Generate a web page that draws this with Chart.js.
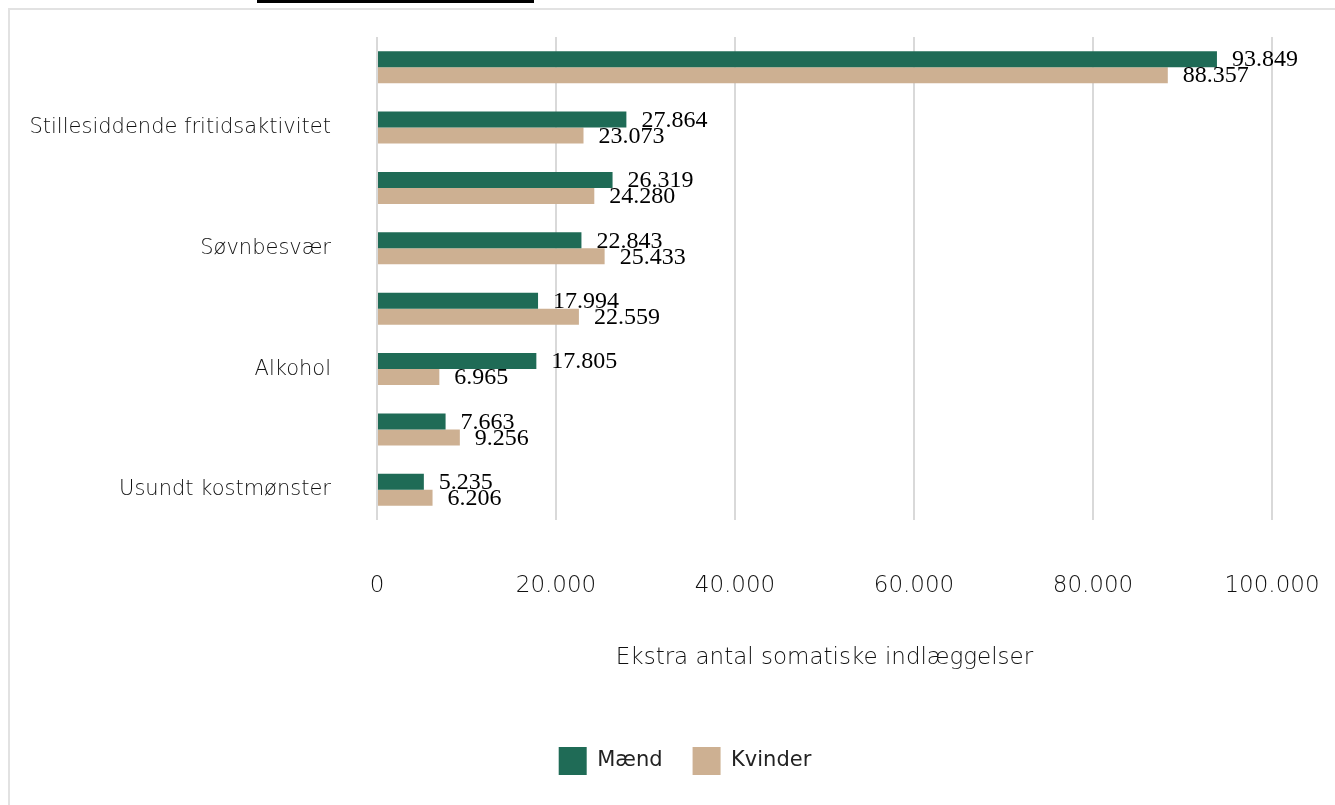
<!DOCTYPE html>
<html lang="da">
<head>
<meta charset="utf-8">
<script src="https://cdn.jsdelivr.net/npm/chart.js@4/dist/chart.umd.min.js"></script>
<style>
  html, body { margin: 0; padding: 0; background: #fff; overflow: hidden; }
  #topbar { position: absolute; left: 257px; top: 0; width: 277px; height: 3px; background: #000; }
  #ramme { position: absolute; left: 8px; top: 8px; width: 1400px; height: 900px;
           border-top: 2px solid #e2e2e2; border-left: 2px solid #e2e2e2; }
  #chart-indlaeggelser { position: absolute; left: 10px; top: 10px; }
</style>
</head>
<body>
<div id="topbar"></div>
<div id="ramme"></div>
<canvas id="chart-indlaeggelser" width="1350" height="795"></canvas>
<script>
// ekstra somatiske indlæggelser pr. risikofaktor, mænd og kvinder

const kategorier = ['', 'Stillesiddende fritidsaktivitet', '', 'Søvnbesvær', '', 'Alkohol', '', 'Usundt kostmønster'];
const maend = [93849, 27864, 26319, 22843, 17994, 17805, 7663, 5235];
const kvinder = [88357, 23073, 24280, 25433, 22559, 6965, 9256, 6206];
const xTicks = [0, 20000, 40000, 60000, 80000, 100000];

const farveMaend = '#1f6b56';
const farveKvinder = '#cdb092';
const tynd = '"DejaVu Sans", sans-serif';

function tal(v) {
  // dansk tusindtalsseparator
  return String(Math.round(v)).replace(/\B(?=(\d{3})+(?!\d))/g, '.');
}

// værdier skrives ud for enden af hver bjælke
const vaerdiEtiketter = {
  id: 'vaerdiEtiketter',
  afterDatasetsDraw(chart) {
    const ctx = chart.ctx;
    ctx.save();
    ctx.font = '24px "Liberation Serif", "DejaVu Serif", serif';
    ctx.fillStyle = '#000';
    ctx.textAlign = 'left';
    ctx.textBaseline = 'middle';
    chart.data.datasets.forEach((ds, i) => {
      const meta = chart.getDatasetMeta(i);
      meta.data.forEach((bar, j) => {
        ctx.fillText(tal(ds.data[j]), bar.x + 15, bar.y + 1);
      });
    });
    ctx.restore();
  }
};

new Chart(document.getElementById('chart-indlaeggelser'), {
  type: 'bar',
  data: {
    labels: kategorier,
    datasets: [
      { label: 'Mænd', data: maend, backgroundColor: farveMaend, categoryPercentage: 0.53, barPercentage: 1.0 },
      { label: 'Kvinder', data: kvinder, backgroundColor: farveKvinder, categoryPercentage: 0.53, barPercentage: 1.0 }
    ]
  },
  options: {
    indexAxis: 'y',
    responsive: false,
    animation: false,
    layout: { padding: { top: 27, right: 0, bottom: 20, left: 0 } },
    scales: {
      x: {
        min: 0,
        max: 100000,
        afterBuildTicks: scale => { scale.ticks = xTicks.map(v => ({ value: v })); },
        afterFit: scale => {
          scale.height = 197;
          scale.paddingLeft = 0;
          scale.paddingRight = 88;
        },
        border: { display: false },
        grid: { color: '#d9d9d9', lineWidth: 2, drawTicks: false },
        ticks: {
          padding: 52,
          color: '#111',
          font: { family: tynd, size: 23, weight: 200 },
          callback: v => tal(v)
        },
        title: {
          display: true,
          text: 'Ekstra antal somatiske indlæggelser',
          color: '#111',
          font: { family: tynd, size: 23, weight: 200 },
          padding: { top: 10, bottom: 45 }
        }
      },
      y: {
        afterFit: scale => {
          scale.width = 367;
          scale.paddingTop = 0;
          scale.paddingBottom = 0;
        },
        border: { display: false },
        grid: { display: false, drawTicks: false },
        ticks: {
          padding: 46,
          autoSkip: false,
          color: '#111',
          font: { family: tynd, size: 21, weight: 200 }
        }
      }
    },
    plugins: {
      legend: {
        position: 'bottom',
        labels: {
          boxWidth: 28,
          boxHeight: 28,
          padding: 30,
          color: '#222',
          font: { family: tynd, size: 21 }
        }
      },
      tooltip: { enabled: false }
    }
  },
  plugins: [vaerdiEtiketter]
});
</script>
</body>
</html>
